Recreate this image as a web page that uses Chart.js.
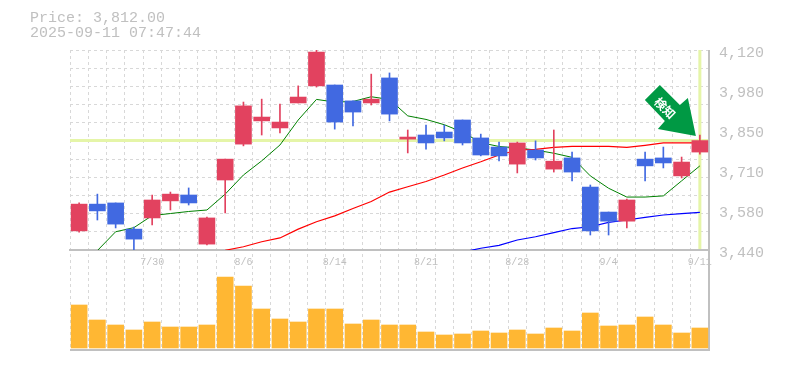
<!DOCTYPE html>
<html>
<head>
<meta charset="utf-8">
<style>
html, body { margin: 0; padding: 0; background: #fff; }
canvas { display: block; }
</style>
<script src="https://cdn.jsdelivr.net/npm/chart.js@4"></script>
</head>
<body>
<canvas id="myChart" width="785" height="370"></canvas>
<script>
const dates = ['7/24','7/25','7/28','7/29','7/30','7/31','8/1','8/4','8/5','8/6','8/7','8/8','8/12','8/13','8/14','8/15','8/18','8/19','8/20','8/21','8/22','8/25','8/26','8/27','8/28','8/29','9/1','9/2','9/3','9/4','9/5','9/8','9/9','9/10','9/11'];
const shownDates = ['7/30','8/6','8/14','8/21','8/28','9/4','9/11'];

const opens  = [3505,3596,3600,3511,3549,3607,3627,3460,3678,3800,3879,3855,3940,3998,4001,3947,3940,4025,3817,3831,3841,3882,3821,3790,3732,3780,3715,3753,3654,3569,3538,3749,3753,3692,3773];
const highs  = [3600,3630,3600,3518,3627,3637,3651,3552,3749,3943,3953,3936,3998,4124,4001,3947,4038,4042,3848,3865,3865,3882,3834,3807,3807,3811,3848,3773,3661,3569,3613,3773,3790,3756,3831];
const lows   = [3501,3542,3515,3436,3525,3576,3593,3457,3566,3794,3831,3838,3940,3994,3851,3862,3933,3879,3770,3783,3811,3797,3760,3743,3702,3746,3705,3675,3491,3491,3515,3675,3719,3685,3766];
const closes = [3596,3573,3528,3477,3610,3630,3600,3549,3749,3930,3892,3875,3960,4113,3875,3909,3953,3902,3824,3804,3821,3804,3763,3760,3804,3753,3742,3705,3505,3538,3610,3726,3736,3739,3812];
const volumes = [43,28,23,18,26,21,21,23,71,62,39,29,26,39,39,24,28,23,23,16,13,14,17,15,18,14,20,17,35,22,23,31,23,15,20];

const maShort = [null,3438,3502,3516,3557,3564,3571,3576,3630,3695,3743,3797,3882,3952,3943,3945,3961,3952,3896,3884,3866,3841,3805,3792,3787,3780,3769,3755,3692,3650,3620,3620,3624,3675,3726];
const maMid = [null,null,null,null,null,null,null,null,3439,3451,3468,3481,3511,3536,3556,3581,3605,3637,3655,3673,3695,3719,3740,3763,3780,3782,3789,3792,3792,3792,3789,3796,3804,3804,3804];
const maLong = [null,null,null,null,null,null,null,null,null,null,null,null,null,null,null,null,null,null,null,null,null,3433,3446,3456,3474,3485,3499,3513,3519,3534,3542,3551,3559,3564,3568];

const priceTicks = [4120,3984,3848,3712,3576,3440];
const currentPrice = 3812;
const titleLines = ['Price: 3,812.00', '2025-09-11 07:47:44'];
const signalText = '検知';

const GRAY = '#c0c0c0';
const GRID = '#d8d8d8';
const YELLOW = '#e5f5a8';

// цвет свечи зависит от направления
const candleColors = closes.map((c, i) => c >= opens[i] ? '#e2425f' : '#4169e1');
const bodies = closes.map((c, i) => [opens[i], c]);
const wicks = highs.map((h, i) => [lows[i], h]);

// 11 делений сетки, подписи идут по своим значениям
const gridValues = [];
for (let i = 0; i <= 11; i += 1) {
	gridValues.push(4120 - i * (4120 - 3440) / 11);
}

const extras = {
	id: 'extras',
	beforeDatasetsDraw(chart) {
		const { ctx, scales } = chart;
		const y = scales.y;
		const x = scales.x;
		const vol = scales.yVol;
		ctx.save();
		ctx.strokeStyle = YELLOW;
		ctx.lineWidth = 3;
		ctx.beginPath();
		ctx.moveTo(x.left, y.getPixelForValue(currentPrice));
		ctx.lineTo(x.right, y.getPixelForValue(currentPrice));
		const lastX = x.getPixelForValue(dates.length - 1);
		ctx.moveTo(lastX, y.top);
		ctx.lineTo(lastX, y.bottom - 1);
		ctx.stroke();
		ctx.strokeStyle = GRAY;
		ctx.lineWidth = 2;
		ctx.beginPath();
		ctx.moveTo(x.left, vol.bottom);
		ctx.lineTo(x.right + 1, vol.bottom);
		ctx.moveTo(x.right, y.top);
		ctx.lineTo(x.right, vol.bottom);
		ctx.stroke();
		ctx.restore();
	},
	afterDraw(chart) {
		const { ctx, scales } = chart;
		ctx.save();
		ctx.fillStyle = GRAY;
		ctx.font = '15px "Liberation Mono"';
		ctx.textBaseline = 'middle';
		ctx.fillText(titleLines[0], 30, 18);
		ctx.fillText(titleLines[1], 30, 33);

		// стрелка упирается в последнюю свечу
		const tipX = scales.x.getPixelForValue(dates.length - 1) - 4;
		const tipY = scales.y.getPixelForValue(highs[highs.length - 1]) + 1;
		ctx.translate(tipX, tipY);
		ctx.fillStyle = '#009944';
		ctx.beginPath();
		ctx.moveTo(0, 0);
		ctx.lineTo(-38, -7);
		ctx.lineTo(-31, -15);
		ctx.lineTo(-51, -36);
		ctx.lineTo(-36, -51);
		ctx.lineTo(-16, -31);
		ctx.lineTo(-8, -38);
		ctx.closePath();
		ctx.fill();
		ctx.translate(-31, -28);
		ctx.rotate(Math.PI / 4);
		ctx.fillStyle = '#fff';
		ctx.font = 'bold 12px "Noto Sans CJK JP"';
		ctx.textAlign = 'center';
		ctx.fillText(signalText, 0, 0);
		ctx.restore();
	}
};

const ctx = document.getElementById('myChart');

new Chart(ctx, {
	type: 'bar',
	data: {
		labels: dates,
		datasets: [
			{ type: 'line', data: maShort, yAxisID: 'y', borderColor: '#008000', borderWidth: 1, pointRadius: 0, tension: 0, order: 5 },
			{ type: 'line', data: maMid, yAxisID: 'y', borderColor: '#ff0000', borderWidth: 1.2, pointRadius: 0, tension: 0, order: 4 },
			{ type: 'line', data: maLong, yAxisID: 'y', borderColor: '#0000ff', borderWidth: 1.2, pointRadius: 0, tension: 0, order: 6 },
			{ data: wicks, yAxisID: 'y', backgroundColor: candleColors, barThickness: 1, grouped: false, order: 3 },
			{ data: bodies, yAxisID: 'y', backgroundColor: candleColors, barThickness: 16, grouped: false, order: 2 },
			{ data: volumes, yAxisID: 'yVol', backgroundColor: '#ffb733', barThickness: 16, grouped: false, order: 1 }
		]
	},
	options: {
		responsive: false,
		animation: false,
		layout: { padding: { left: 70, right: 11, top: 50, bottom: 20 } },
		plugins: { legend: { display: false }, tooltip: { enabled: false } },
		scales: {
			x: {
				position: { y: 3440 },
				offset: true,
				border: { color: GRAY, width: 2, dash: [3, 3] },
				grid: { offset: true, color: GRID, drawTicks: false },
				ticks: {
					autoSkip: false,
					maxRotation: 0,
					padding: 6,
					color: GRAY,
					font: { family: 'Liberation Mono', size: 10 },
					callback(value) {
						const label = this.getLabelForValue(value);
						return shownDates.includes(label) ? label : '';
					}
				}
			},
			y: {
				position: 'right',
				stack: 'panels',
				stackWeight: 2,
				min: 3440,
				max: 4120,
				border: { display: false, dash: [3, 3] },
				grid: {
					drawTicks: false,
					color: (c) => gridValues.includes(c.tick.value) ? GRID : 'transparent'
				},
				afterBuildTicks(scale) {
					const all = gridValues.concat(priceTicks.slice(1, 5)).sort((a, b) => b - a);
					scale.ticks = all.map((v) => ({ value: v }));
				},
				ticks: {
					autoSkip: false,
					padding: 10,
					labelOffset: 3,
					color: GRAY,
					font: { family: 'Liberation Mono', size: 15 },
					callback(value) {
						if (!priceTicks.includes(value)) return '';
						return (Math.round(value / 10) * 10).toLocaleString('en-US');
					}
				}
			},
			yVol: {
				position: 'right',
				stack: 'panels',
				stackWeight: 1,
				min: -2,
				max: 98,
				border: { display: false },
				grid: { display: false },
				ticks: { display: false }
			}
		}
	},
	plugins: [extras]
});
</script>
</body>
</html>
